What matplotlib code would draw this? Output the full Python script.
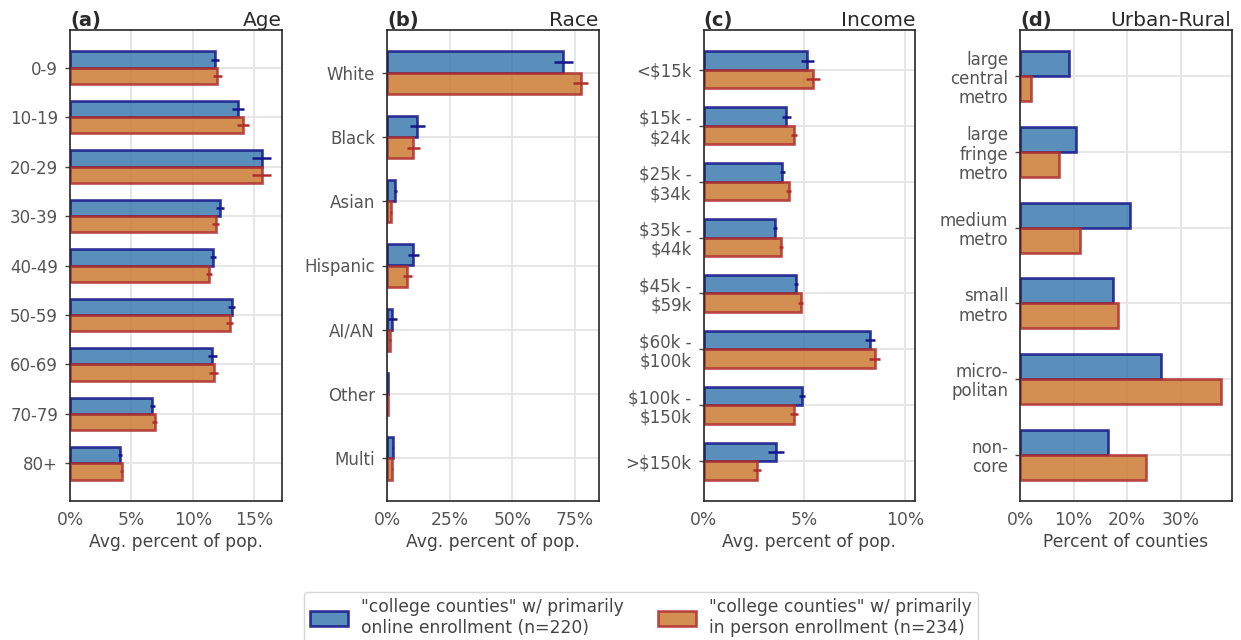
import matplotlib
matplotlib.use("Agg")
import matplotlib.pyplot as plt
import numpy as np
from matplotlib.ticker import MultipleLocator, PercentFormatter
from matplotlib.patches import Patch

plt.rcParams["font.family"] = ["DejaVu Sans"]
plt.rcParams["text.parse_math"] = False

# ---- data -------------------------------------------------------------
age_labels = ["0-9", "10-19", "20-29", "30-39", "40-49", "50-59", "60-69", "70-79", "80+"]
age_online = [11.8, 13.7, 15.6, 12.2, 11.65, 13.15, 11.6, 6.7, 4.05]
age_online_err = [0.35, 0.5, 0.8, 0.33, 0.25, 0.3, 0.35, 0.2, 0.15]
age_inperson = [12.0, 14.1, 15.6, 11.85, 11.35, 13.0, 11.7, 6.9, 4.2]
age_inperson_err = [0.35, 0.5, 0.8, 0.3, 0.25, 0.3, 0.35, 0.2, 0.15]

race_labels = ["White", "Black", "Asian", "Hispanic", "AI/AN", "Other", "Multi"]
race_online = [70.2, 12.1, 3.3, 10.4, 2.0, 0.3, 2.3]
race_online_err = [3.8, 2.9, 0.7, 2.2, 1.8, 0.1, 0.2]
race_inperson = [77.3, 10.4, 1.5, 8.0, 1.2, 0.2, 2.1]
race_inperson_err = [3.0, 2.6, 0.3, 1.8, 0.5, 0.1, 0.2]

income_labels = ["<$15k", "$15k -\n$24k", "$25k -\n$34k", "$35k -\n$44k",
                 "$45k -\n$59k", "$60k -\n$100k", "$100k -\n$150k", ">$150k"]
income_online = [5.15, 4.12, 3.92, 3.57, 4.57, 8.27, 4.88, 3.62]
income_online_err = [0.33, 0.2, 0.12, 0.1, 0.1, 0.25, 0.15, 0.4]
income_inperson = [5.43, 4.49, 4.24, 3.84, 4.82, 8.49, 4.5, 2.66]
income_inperson_err = [0.33, 0.15, 0.12, 0.1, 0.12, 0.25, 0.2, 0.2]

urban_labels = ["large\ncentral\nmetro", "large\nfringe\nmetro", "medium\nmetro",
                "small\nmetro", "micro-\npolitan", "non-\ncore"]
urban_online_counts = [20, 23, 45, 38, 58, 36]
urban_inperson_counts = [5, 17, 26, 43, 88, 55]

n_online = 220
n_inperson = 234

# ---- styling ----------------------------------------------------------
blue_fill, blue_edge = "#3d7bb0", "#14168a"
orange_fill, orange_edge = "#cc7b33", "#b02e2e"
bar_alpha = 0.85
tick_color = "#555555"
text_color = "#2a2a2a"
spine_color = "#262626"

fig = plt.figure(figsize=(12.41, 6.40), dpi=100)

W = 1241.0
H = 640.0
ax_lefts = [70, 387, 703.5, 1020]
ax_w = 211.5
ax_top, ax_bottom = 30, 501

panels = [
    ("(a)", "Age", age_labels, age_online, age_online_err, age_inperson, age_inperson_err,
     5, "Avg. percent of pop.", None),
    ("(b)", "Race", race_labels, race_online, race_online_err, race_inperson, race_inperson_err,
     25, "Avg. percent of pop.", None),
    ("(c)", "Income", income_labels, income_online, income_online_err, income_inperson,
     income_inperson_err, 5, "Avg. percent of pop.", (0, 10.5)),
    ("(d)", "Urban-Rural", urban_labels,
     [100.0 * c / n_online for c in urban_online_counts], None,
     [100.0 * c / n_inperson for c in urban_inperson_counts], None,
     10, "Percent of counties", None),
]

bar_h = 0.33
for left, (tag, title, labels, v_on, e_on, v_in, e_in, step, xlabel, xlim) in zip(ax_lefts, panels):
    ax = fig.add_axes([left / W, 1 - ax_bottom / H, ax_w / W, (ax_bottom - ax_top) / H])
    y = np.arange(len(labels))
    ax.barh(y - bar_h / 2, v_on, height=bar_h, color=blue_fill, edgecolor=blue_edge,
            linewidth=1.9, alpha=bar_alpha, zorder=2)
    ax.barh(y + bar_h / 2, v_in, height=bar_h, color=orange_fill, edgecolor=orange_edge,
            linewidth=1.9, alpha=bar_alpha, zorder=2)
    if e_on is not None:
        ax.errorbar(v_on, y - bar_h / 2, xerr=e_on, fmt="none", ecolor=blue_edge,
                    elinewidth=1.8, capsize=0, zorder=3)
        ax.errorbar(v_in, y + bar_h / 2, xerr=e_in, fmt="none", ecolor=orange_edge,
                    elinewidth=1.8, capsize=0, zorder=3)
    ax.invert_yaxis()
    if xlim is not None:
        ax.set_xlim(*xlim)
    else:
        ax.set_xlim(left=0)
    ax.set_yticks(y)
    ax.set_yticklabels(labels, linespacing=1.1)
    ax.xaxis.set_major_locator(MultipleLocator(step))
    ax.xaxis.set_major_formatter(PercentFormatter(decimals=0))
    ax.grid(True, color="#e6e6e6", linewidth=1.4, zorder=0)
    ax.set_axisbelow(True)
    for sp in ax.spines.values():
        sp.set_color(spine_color)
        sp.set_linewidth(1.2)
    ax.tick_params(axis="y", length=3.6, width=1.0, color="#444444", labelsize=12,
                   labelcolor=tick_color, pad=5)
    ax.tick_params(axis="x", length=0, labelsize=12.3, labelcolor=tick_color, pad=7)
    ax.set_xlabel(xlabel, fontsize=12.3, color="#444444", labelpad=3)
    ax.set_title(tag, loc="left", fontsize=14, fontweight="bold", color=text_color, pad=3)
    ax.set_title(title, loc="right", fontsize=14.5, color=text_color, pad=3)

handles = [
    Patch(facecolor=blue_fill, edgecolor=blue_edge, linewidth=1.9, alpha=bar_alpha),
    Patch(facecolor=orange_fill, edgecolor=orange_edge, linewidth=1.9, alpha=bar_alpha),
]
legend_labels = [
    f'"college counties" w/ primarily\nonline enrollment (n={n_online})',
    f'"college counties" w/ primarily\nin person enrollment (n={n_inperson})',
]
leg = fig.legend(handles, legend_labels, loc="upper center", bbox_to_anchor=(641 / W, 1 - 592 / H),
                 ncol=2, fontsize=12.3, frameon=True, handlelength=2.2, handleheight=1.0,
                 columnspacing=2.0, borderpad=0.35, borderaxespad=0.0, fancybox=True)
leg.get_frame().set_edgecolor("#cccccc")
for t in leg.get_texts():
    t.set_color("#444444")

fig.savefig("out.png", dpi=100)
